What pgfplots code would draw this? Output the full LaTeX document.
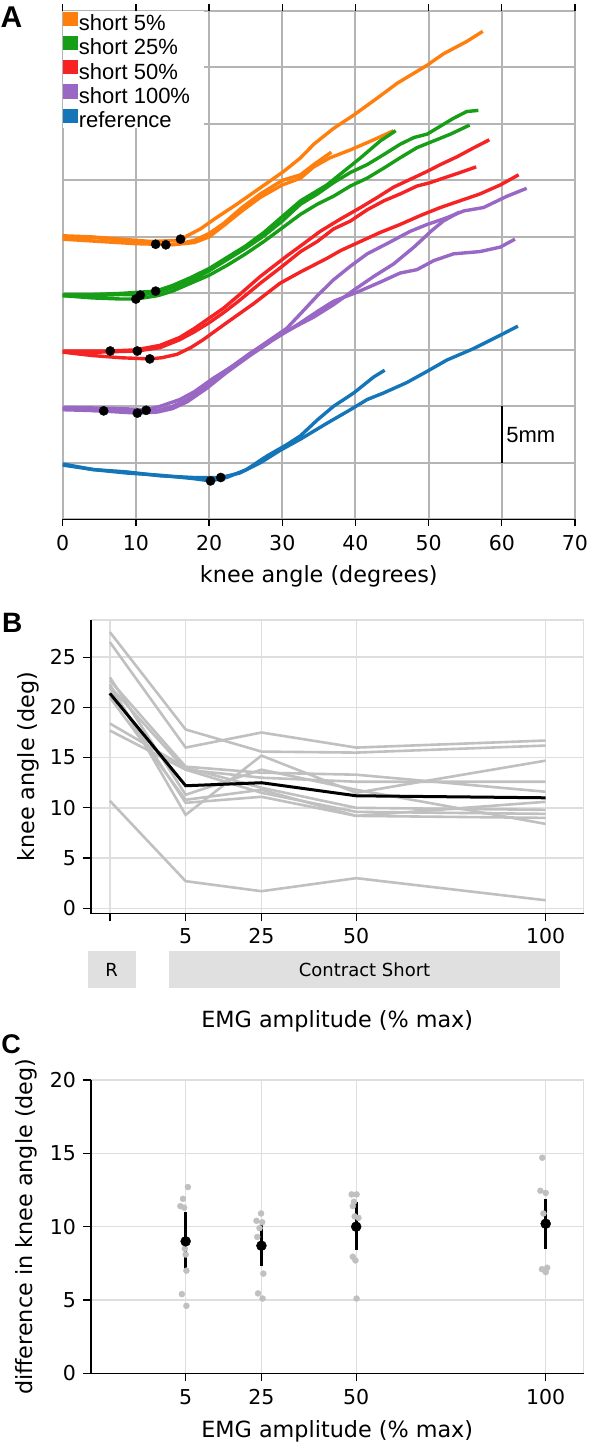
\documentclass[border=0pt]{standalone}
\usepackage{fontspec}
\setmainfont{DejaVu Sans}
\newfontfamily\arialfont{Liberation Sans}
\usepackage{pgfplots}
\pgfplotsset{compat=1.18}
\definecolor{corange}{RGB}{255,127,14}
\definecolor{cgreen}{RGB}{22,158,22}
\definecolor{cred}{RGB}{245,35,35}
\definecolor{cpurple}{RGB}{152,104,196}
\definecolor{cblue}{RGB}{20,118,184}
\definecolor{gridA}{RGB}{180,180,180}
\definecolor{gridB}{RGB}{222,222,222}
\definecolor{lgray}{RGB}{192,192,192}
\definecolor{boxgray}{RGB}{224,224,224}
\newcommand{\tickfont}{\fontsize{20.5}{24}\selectfont}
\newcommand{\labfont}{\fontsize{22.3}{26}\selectfont}
\begin{document}
\begin{tikzpicture}[x=1pt,y=1pt]
\path[use as bounding box] (0,0) rectangle (592,-1442);
\node[font=\arialfont\bfseries\fontsize{30}{30}\selectfont] at (11.5,-17) {A};
\node[font=\arialfont\bfseries\fontsize{28}{28}\selectfont] at (12.2,-623.3) {B};
\node[font=\arialfont\bfseries\fontsize{27}{27}\selectfont] at (11,-1044) {C};

% ---------------- Panel A ----------------
\begin{axis}[
  at={(62.7pt,-11pt)}, anchor=north west, scale only axis,
  width=512.3pt, height=508.3pt,
  xmin=0, xmax=70, ymin=-5, ymax=40,
  xtick={0,10,...,70}, ytick={-5,0,...,40}, yticklabels={},
  grid=major, major grid style={gridA, line width=2pt},
  axis line style={draw=none},
  tick align=outside, major tick length=7pt,
  xtick style={black, line width=1.3pt}, ytick style={draw=none},
  ticklabel style={font=\tickfont},
  xticklabel style={yshift=-5pt},
  /pgf/number format/assume math mode=true,
  xlabel={knee angle (degrees)},
  xlabel style={font=\labfont, at={(axis description cs:0.5,-0.1115)}, anchor=center},
  legend style={at={(0,1)}, anchor=north west, draw=none, fill=white,
    font=\arialfont\fontsize{22}{24}\selectfont, inner xsep=0pt, inner ysep=1pt,
    row sep=5.4pt, nodes={inner xsep=1.5pt, inner ysep=0pt, text height=17pt, text depth=0pt}},
  legend cell align=left,
]
\addlegendimage{legend image code/.code={\fill[corange] (0pt,-3pt) rectangle (14pt,10pt);}}
\addlegendentry{short 5\%}
\addlegendimage{legend image code/.code={\fill[cgreen] (0pt,-3pt) rectangle (14pt,10pt);}}
\addlegendentry{short 25\%}
\addlegendimage{legend image code/.code={\fill[cred] (0pt,-3pt) rectangle (14pt,10pt);}}
\addlegendentry{short 50\%}
\addlegendimage{legend image code/.code={\fill[cpurple] (0pt,-3pt) rectangle (14pt,10pt);}}
\addlegendentry{short 100\%\hspace*{12pt}}
\addlegendimage{legend image code/.code={\fill[cblue] (0pt,-3pt) rectangle (14pt,10pt);}}
\addlegendentry{reference}

% orange
\addplot[corange, line width=3.4pt, forget plot] coordinates {(0,20.1)(4,20.0)(8,19.8)(12,19.6)(16.2,19.7)(17,20.1)(18.8,20.7)(21,21.7)(23.8,22.9)(27,24.35)(30.2,25.8)(32.5,27.0)(34.3,28.2)(37,29.6)(39.8,30.8)(43,32.3)(45.7,33.6)(49.8,35.2)(52,36.2)(55.2,37.3)(57.4,38.2)};
\addplot[corange, line width=3.4pt, forget plot] coordinates {(0,20.0)(5,19.9)(10,19.6)(14.1,19.3)(16,19.4)(18,19.7)(20,20.3)(22,21.2)(24.5,22.6)(27,23.8)(30,25.0)(32.5,25.5)(34.3,26.4)(36.7,27.5)};
\addplot[corange, line width=3.4pt, forget plot] coordinates {(0,19.8)(5,19.6)(10,19.4)(12.7,19.35)(15,19.3)(18,19.5)(20,20.0)(22,21.0)(24.5,22.3)(27,23.5)(30,24.6)(32.5,25.2)(34.3,26.2)(36.5,27.0)(39.3,27.7)(42.5,28.6)(45.2,29.4)};
% green
\addplot[cgreen, line width=3.4pt, forget plot] coordinates {(0,14.8)(4,14.8)(8,14.9)(10.6,14.85)(13,15.1)(15,15.5)(17.5,16.1)(20,17.0)(22.5,18.0)(25,19.0)(27.5,20.1)(30,21.4)(32.5,22.9)(34.8,23.8)(37,24.8)(39.3,25.7)(41.6,26.4)(43.9,27.3)(46.1,28.2)(48,28.8)(49.8,29.1)(51.6,29.8)(53.4,30.5)(55.2,31.1)(56.8,31.2)};
\addplot[cgreen, line width=3.4pt, forget plot] coordinates {(0,14.9)(4,14.9)(8,15.0)(12.7,15.2)(15,15.7)(17.5,16.4)(20,17.2)(22.5,18.2)(25,19.2)(27.5,20.4)(30,21.8)(32.5,23.2)(36.1,24.6)(38.4,25.8)(40.7,27.0)(43.4,28.5)(45.5,29.4)};
\addplot[cgreen, line width=3.4pt, forget plot] coordinates {(0,14.8)(4,14.6)(8,14.5)(10,14.5)(13,14.8)(15,15.2)(17.5,15.9)(20,16.6)(22.5,17.5)(25,18.5)(27.5,19.6)(30,20.8)(32.5,22.0)(34.8,22.9)(37,23.6)(39.3,24.5)(41.6,25.2)(43.9,26.1)(46.1,27.0)(48.4,27.9)(50.7,28.5)(53,29.1)(55.6,29.9)};
% red
\addplot[cred, line width=3.4pt, forget plot] coordinates {(0,9.9)(4,9.9)(6.5,9.9)(10,10.0)(13.3,10.4)(16,11.1)(18,11.9)(20,12.8)(22,13.7)(24,14.8)(27,16.5)(30.6,18.3)(32.5,19.2)(35.2,20.5)(38,21.6)(40.7,22.6)(43,23.5)(45.2,24.4)(47.5,25.1)(49.8,25.8)(51.6,26.4)(53.9,27.1)(56.2,27.9)(58.3,28.6)};
\addplot[cred, line width=3.4pt, forget plot] coordinates {(0,9.8)(5,9.8)(10.2,9.9)(13.3,10.2)(16,10.9)(18,11.6)(20,12.4)(22,13.3)(24,14.3)(27,15.9)(30,17.4)(32.5,18.7)(34.8,19.6)(37,20.7)(39.3,21.4)(41.6,22.4)(43.9,23.2)(46.1,23.8)(48.4,24.5)(50.2,24.8)(52,25.2)(54.3,25.7)(56.5,26.2)};
\addplot[cred, line width=3.4pt, forget plot] coordinates {(0,9.8)(4,9.5)(8,9.3)(11.9,9.2)(13.5,9.3)(15.6,9.6)(17.5,10.2)(19.2,10.9)(22.4,12.4)(26.1,14.1)(29.7,15.9)(32.5,16.9)(36.1,18.1)(38,18.8)(40.7,19.6)(43.4,20.4)(46.1,21.1)(48.9,21.9)(51.6,22.6)(54.3,23.2)(57,23.8)(59.8,24.6)(62.3,25.5)};
% purple
\addplot[cpurple, line width=3.4pt, forget plot] coordinates {(0,4.9)(5,4.85)(8,4.8)(11.4,4.7)(13.3,5.0)(16,5.6)(18,6.3)(20.6,7.5)(23.8,8.8)(27,10.3)(30.6,11.9)(32.5,13.2)(34.8,14.8)(37,16.2)(39.3,17.4)(41.6,18.5)(44.3,19.4)(47.5,20.5)(49.8,21.1)(52.5,21.7)(54.8,22.3)(57.5,22.6)(60.7,23.6)(63.4,24.3)};
\addplot[cpurple, line width=3.4pt, forget plot] coordinates {(0,4.7)(5.6,4.6)(10,4.55)(13,4.65)(15,5.0)(17,5.6)(19.7,6.8)(22.4,8.2)(25.6,9.7)(28.8,11.0)(32.5,12.3)(34.3,12.9)(37,14.0)(39.8,15.3)(42.5,16.5)(45.2,17.6)(48,19.1)(50.5,20.6)(52,21.4)(54.2,22.2)};
\addplot[cpurple, line width=3.4pt, forget plot] coordinates {(0,4.8)(5,4.6)(10.2,4.4)(13,4.5)(15,4.8)(17,5.4)(19.7,6.6)(22.4,8.0)(25.6,9.5)(28.8,10.9)(32.5,12.4)(34.8,13.4)(37,14.3)(40.2,15.1)(43.4,16.0)(46.1,16.8)(48.4,17.1)(50.7,17.9)(53.4,18.5)(57,18.7)(59.8,19.1)(61.8,19.8)};
% blue
\addplot[cblue, line width=3.4pt, forget plot] coordinates {(0,-0.1)(4.2,-0.6)(8.7,-0.9)(13.3,-1.1)(17.9,-1.4)(20.2,-1.6)(22.4,-1.3)(25.1,-0.6)(27.9,0.6)(30.6,1.6)(32.5,2.4)(34.8,3.8)(37,5.0)(39.8,6.2)(42.5,7.6)(44,8.2)};
\addplot[cblue, line width=3.4pt, forget plot] coordinates {(0,-0.2)(4.2,-0.6)(8.7,-0.8)(13.3,-1.15)(17.9,-1.3)(21.6,-1.3)(24.2,-0.9)(27,0.0)(29.7,1.1)(32.5,2.1)(36.1,3.5)(39.3,4.7)(41.6,5.6)(43.9,6.2)(47,7.1)(49.8,8.1)(52.5,9.1)(56.1,10.1)(59.8,11.3)(62.2,12.1)};
% onset markers
\addplot[only marks, mark=*, mark size=4.6pt, black, forget plot] coordinates {(12.7,19.35)(14.1,19.3)(16.1,19.8)(10.0,14.5)(10.6,14.85)(12.7,15.2)(6.5,9.9)(10.2,9.9)(11.9,9.2)(5.6,4.6)(10.2,4.4)(11.4,4.65)(20.2,-1.6)(21.6,-1.3)};
% scale bar
\addplot[black, line width=2.5pt, forget plot] coordinates {(60,0)(60,5)};
\node[anchor=west, font=\arialfont\fontsize{22}{24}\selectfont, inner sep=0pt] at (axis cs:60.6,2.5) {5mm};
\draw[black, line width=1.6pt] (rel axis cs:0,0) -- (rel axis cs:1,0);
\end{axis}

% ---------------- Panel B ----------------
\begin{axis}[
  at={(90.9pt,-620pt)}, anchor=north west, scale only axis,
  width=492.7pt, height=293.3pt,
  xmin=-20, xmax=110, ymin=-0.5, ymax=28.7,
  xtick={-15,5,25,50,100}, xticklabels={,5,25,50,100},
  ytick={0,5,...,25},
  grid=major, major grid style={gridB, line width=1.4pt},
  axis line style={draw=none},
  tick pos=left, tick align=outside, major tick length=8pt,
  tick style={black, line width=1.3pt},
  ticklabel style={font=\tickfont},
  xticklabel style={yshift=-3.5pt},
  yticklabel style={xshift=-3.5pt},
  /pgf/number format/assume math mode=true,
  ylabel={knee angle (deg)},
  ylabel style={font=\labfont, at={(axis description cs:-0.1277,0.5)}, anchor=center},
  xlabel={EMG amplitude (\% max)},
  xlabel style={font=\labfont, at={(axis description cs:0.5,-0.3696)}, anchor=center},
  clip=false,
]
\addplot[lgray, line width=2.6pt] coordinates {(-15,10.7)(5,2.7)(25,1.7)(50,3.0)(100,0.8)};
\addplot[lgray, line width=2.6pt] coordinates {(-15,27.5)(5,17.8)(25,15.6)(50,15.5)(100,16.2)};
\addplot[lgray, line width=2.6pt] coordinates {(-15,26.5)(5,16.0)(25,17.5)(50,16.0)(100,16.7)};
\addplot[lgray, line width=2.6pt] coordinates {(-15,22.3)(5,9.3)(25,15.2)(50,11.5)(100,14.7)};
\addplot[lgray, line width=2.6pt] coordinates {(-15,22.7)(5,14.1)(25,13.5)(50,13.3)(100,11.6)};
\addplot[lgray, line width=2.6pt] coordinates {(-15,22.1)(5,13.8)(25,13.0)(50,12.6)(100,12.6)};
\addplot[lgray, line width=2.6pt] coordinates {(-15,18.4)(5,14.0)(25,12.0)(50,10.0)(100,9.8)};
\addplot[lgray, line width=2.6pt] coordinates {(-15,17.7)(5,13.8)(25,11.5)(50,9.6)(100,9.4)};
\addplot[lgray, line width=2.6pt] coordinates {(-15,23.0)(5,11.3)(25,13.8)(50,11.8)(100,8.4)};
\addplot[lgray, line width=2.6pt] coordinates {(-15,21.0)(5,10.8)(25,11.8)(50,9.2)(100,9.0)};
\addplot[lgray, line width=2.6pt] coordinates {(-15,22.0)(5,10.5)(25,11.1)(50,9.2)(100,10.6)};
\addplot[black, line width=3pt] coordinates {(-15,21.4)(5,12.2)(25,12.5)(50,11.2)(100,11.0)};
\draw[gridB, line width=1.4pt] (rel axis cs:0,1) -- (rel axis cs:1,1) -- (rel axis cs:1,0);
\draw[black, line width=1.6pt] (rel axis cs:0,1) -- (rel axis cs:0,0) -- (rel axis cs:1,0);
\fill[boxgray] (axis cs:-20.8,-4.25) rectangle (axis cs:-8.1,-7.94);
\fill[boxgray] (axis cs:0.6,-4.25) rectangle (axis cs:103.8,-7.94);
\node[font=\fontsize{18}{20}\selectfont] at (axis cs:-14.5,-6.1) {R};
\node[font=\fontsize{18}{20}\selectfont] at (axis cs:52.2,-6.1) {Contract Short};
\end{axis}

% ---------------- Panel C ----------------
\begin{axis}[
  at={(90.9pt,-1080pt)}, anchor=north west, scale only axis,
  width=492.7pt, height=293.3pt,
  xmin=-20, xmax=110, ymin=0, ymax=20,
  xtick={5,25,50,100},
  ytick={0,5,...,20},
  grid=major, major grid style={gridB, line width=1.4pt},
  axis line style={draw=none},
  tick pos=left, tick align=outside, major tick length=8pt,
  tick style={black, line width=1.3pt},
  ticklabel style={font=\tickfont},
  xticklabel style={yshift=-4.5pt},
  yticklabel style={xshift=-3.5pt},
  /pgf/number format/assume math mode=true,
  ylabel={difference in knee angle (deg)},
  ylabel style={font=\labfont, at={(axis description cs:-0.1317,0.5)}, anchor=center},
  xlabel={EMG amplitude (\% max)},
  xlabel style={font=\labfont, at={(axis description cs:0.5,-0.1967)}, anchor=center},
  clip=false,
]
\addplot[only marks, mark=*, mark size=3pt, lgray, mark options={draw=lgray, fill=lgray}] coordinates {
 (5.6,12.7)(4.3,11.9)(3.6,11.4)(4.6,11.3)(4.8,8.5)(5.0,8.1)(5.2,7.0)(4.0,5.4)(5.2,4.6)
 (24.9,10.9)(23.7,10.4)(25.2,10.3)(24.5,9.9)(23.9,9.3)(25.5,6.8)(24.1,5.45)(25.3,5.1)
 (48.8,12.2)(50.1,12.2)(49.4,11.7)(49.1,11.4)(49.6,10.7)(50.6,10.6)(49.1,7.95)(49.8,7.7)(50.1,5.1)
 (99.1,14.7)(98.6,12.45)(100.0,12.3)(99.4,10.9)(99.0,7.1)(100.4,7.2)(100.0,6.9)};
\addplot[only marks, mark=*, mark size=5pt, black,
  error bars/.cd, y dir=both, y explicit, error mark=none,
  error bar style={line width=2.6pt, black}] coordinates {
  (5,9.0) += (0,2.0) -= (0,1.9)
  (25,8.7) += (0,1.6) -= (0,1.4)
  (50,10.0) += (0,1.7) -= (0,1.6)
  (100,10.2) += (0,1.7) -= (0,1.75)};
\draw[gridB, line width=1.4pt] (rel axis cs:0,1) -- (rel axis cs:1,1) -- (rel axis cs:1,0);
\draw[black, line width=1.6pt] (rel axis cs:0,1) -- (rel axis cs:0,0) -- (rel axis cs:1,0);
\end{axis}
\end{tikzpicture}
\end{document}
